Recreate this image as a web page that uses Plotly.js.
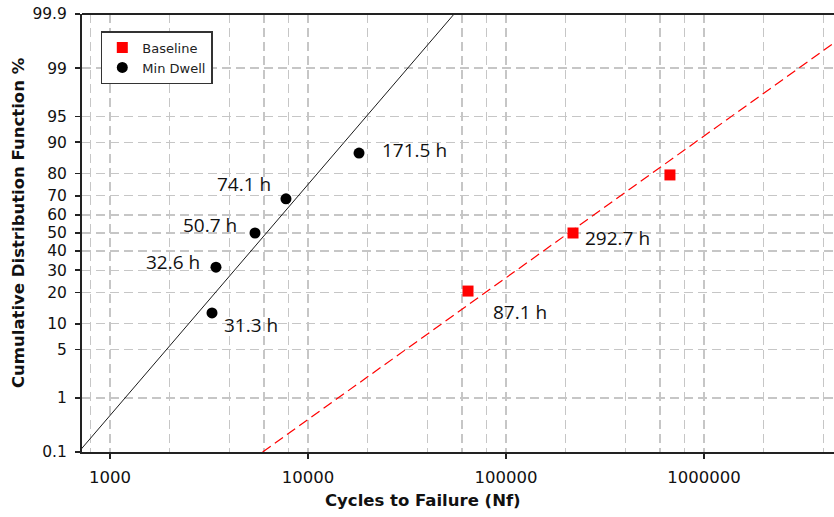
<!DOCTYPE html>
<html>
<head>
<meta charset="utf-8">
<script src="https://cdn.plot.ly/plotly-3.0.1.min.js"></script>
<style>html,body{margin:0;padding:0;background:#fff;}#chart{width:834px;height:517px;}</style>
</head>
<body>
<div id="chart"></div>
<script>
// ---- data ----
const baselineCycles = [64300, 218000, 673000];
const baselineCdf = [20.63, 50.0, 79.37];
const baselineLabels = ['87.1 h', '292.7 h', ''];

const minDwellCycles = [3275, 3430, 5400, 7740, 18100];
const minDwellCdf = [12.96, 31.48, 50.0, 68.52, 87.04];
const minDwellLabels = ['31.3 h', '32.6 h', '50.7 h', '74.1 h', '171.5 h'];

const minDwellFitCycles = [695, 54700];
const minDwellFitCdf = [0.1, 99.9];
const baselineFitCycles = [5900, 7260000];
const baselineFitCdf = [0.1, 99.9];

const yTickCdf = [0.1, 1, 5, 10, 20, 30, 40, 50, 60, 70, 80, 90, 95, 99, 99.9];
const yTickText = ['0.1', '1', '5', '10', '20', '30', '40', '50', '60', '70', '80', '90', '95', '99', '99.9'];
const xTickVals = [1000, 10000, 100000, 1000000];
const xTickText = ['1000', '10000', '100000', '1000000'];
const xMinorGrid = [800, 2000, 4000, 6000, 8000, 20000, 40000, 60000, 80000,
  200000, 400000, 600000, 800000, 2000000, 4000000];

// ---- normal probability scale (inverse normal CDF, Acklam) ----
function probit(p) {
  const a = [-3.969683028665376e+01, 2.209460984245205e+02, -2.759285104469687e+02, 1.383577518672690e+02, -3.066479806614716e+01, 2.506628277459239e+00];
  const b = [-5.447609879822406e+01, 1.615858368580409e+02, -1.556989798598866e+02, 6.680131188771972e+01, -1.328068155288572e+01];
  const c = [-7.784894002430293e-03, -3.223964580411365e-01, -2.400758277161838e+00, -2.549732539343734e+00, 4.374664141464968e+00, 2.938163982698783e+00];
  const d = [7.784695709041462e-03, 3.224671290700398e-01, 2.445134137142996e+00, 3.754408661907416e+00];
  const pl = 0.02425, ph = 1 - pl;
  let q, r;
  if (p < pl) {
    q = Math.sqrt(-2 * Math.log(p));
    return (((((c[0]*q+c[1])*q+c[2])*q+c[3])*q+c[4])*q+c[5]) / ((((d[0]*q+d[1])*q+d[2])*q+d[3])*q+1);
  } else if (p <= ph) {
    q = p - 0.5; r = q * q;
    return (((((a[0]*r+a[1])*r+a[2])*r+a[3])*r+a[4])*r+a[5])*q / (((((b[0]*r+b[1])*r+b[2])*r+b[3])*r+b[4])*r+1);
  } else {
    q = Math.sqrt(-2 * Math.log(1 - p));
    return -(((((c[0]*q+c[1])*q+c[2])*q+c[3])*q+c[4])*q+c[5]) / ((((d[0]*q+d[1])*q+d[2])*q+d[3])*q+1);
  }
}
const z = arr => arr.map(v => probit(v / 100));

const traces = [
  {x: minDwellFitCycles, y: z(minDwellFitCdf), mode: 'lines', showlegend: false, hoverinfo: 'skip',
   line: {color: '#1a1a1a', width: 1}},
  {x: baselineFitCycles, y: z(baselineFitCdf), mode: 'lines', showlegend: false, hoverinfo: 'skip',
   line: {color: '#ff0000', width: 1.2, dash: '10px,5px'}},
  {x: baselineCycles, y: z(baselineCdf), mode: 'markers', name: 'Baseline',
   marker: {symbol: 'square', size: 11, color: '#ff0000'}},
  {x: minDwellCycles, y: z(minDwellCdf), mode: 'markers', name: 'Min Dwell',
   marker: {symbol: 'circle', size: 11, color: '#000000'}}
];

// label placement (pixel offsets)
const minDwellLabelPos = [
  {xanchor: 'left', dx: 10, dy: -12},
  {xanchor: 'right', dx: -14, dy: 5},
  {xanchor: 'right', dx: -16, dy: 8},
  {xanchor: 'right', dx: -13, dy: 15},
  {xanchor: 'left', dx: 21, dy: 3}
];
const baselineLabelPos = [
  {xanchor: 'left', dx: 23, dy: -21},
  {xanchor: 'left', dx: 10, dy: -5},
  {xanchor: 'left', dx: 10, dy: 0}
];
const labelFont = {family: 'Open Sans, sans-serif', size: 19, color: '#111'};
const annotations = [];
function addLabels(xs, ps, labels, pos) {
  const zs = z(ps);
  labels.forEach((t, i) => {
    if (!t) return;
    annotations.push({x: Math.log10(xs[i]), y: zs[i], xref: 'x', yref: 'y', text: t, showarrow: false,
      xanchor: pos[i].xanchor, yanchor: 'middle', xshift: pos[i].dx, yshift: pos[i].dy, font: labelFont});
  });
}
addLabels(minDwellCycles, minDwellCdf, minDwellLabels, minDwellLabelPos);
addLabels(baselineCycles, baselineCdf, baselineLabels, baselineLabelPos);

annotations.push({xref: 'paper', yref: 'paper', x: 0.4535, y: -0.1096, xanchor: 'center', yanchor: 'middle',
  showarrow: false, text: '<b>Cycles to Failure (Nf)</b>',
  font: {family: 'DejaVu Sans, sans-serif', size: 16.5, color: '#111'}});
annotations.push({xref: 'paper', yref: 'paper', x: -0.0851, y: 0.5228, xanchor: 'center', yanchor: 'middle',
  showarrow: false, textangle: -90, text: '<b>Cumulative Distribution Function %</b>',
  font: {family: 'DejaVu Sans, sans-serif', size: 16.5, color: '#111'}});

const layout = {
  width: 834, height: 517,
  margin: {l: 82, r: 0, t: 14, b: 65, pad: 0},
  paper_bgcolor: '#ffffff', plot_bgcolor: '#ffffff',
  showlegend: true,
  legend: {x: 0.025, y: 0.961, xanchor: 'left', yanchor: 'top', bgcolor: '#ffffff',
    bordercolor: '#333333', borderwidth: 1.5, font: {family: 'DejaVu Sans, sans-serif', size: 13, color: '#222'},
    traceorder: 'normal', itemwidth: 30},
  xaxis: {
    type: 'log', range: [2.8586, 6.6566],
    tickmode: 'array', tickvals: xTickVals, ticktext: xTickText,
    ticks: 'outside', ticklen: 5, tickwidth: 1.5, tickcolor: '#222',
    ticklabelstandoff: 4,
    tickfont: {family: 'DejaVu Sans, sans-serif', size: 16.5, color: '#111'},
    showgrid: true, gridcolor: '#c6c6c6', gridwidth: 1.3, griddash: '9px,5px',
    minor: {tickmode: 'array', tickvals: xMinorGrid, showgrid: true, gridcolor: '#c6c6c6', gridwidth: 1.3,
      griddash: '9px,5px', ticks: ''},
    showline: true, linecolor: '#222', linewidth: 2, mirror: false, zeroline: false
  },
  yaxis: {
    range: [probit(0.001), probit(0.999)],
    tickmode: 'array', tickvals: z(yTickCdf), ticktext: yTickText,
    ticks: 'outside', ticklen: 5, tickwidth: 1.5, tickcolor: '#222',
    ticklabelstandoff: 5,
    tickfont: {family: 'DejaVu Sans, sans-serif', size: 15.5, color: '#111'},
    showgrid: true, gridcolor: '#c6c6c6', gridwidth: 1.3, griddash: '9px,5px',
    showline: true, linecolor: '#222', linewidth: 2, mirror: false, zeroline: false
  },
  shapes: [
    {type: 'line', xref: 'paper', yref: 'paper', x0: 0, x1: 1, y0: 1, y1: 1,
     line: {color: '#222', width: 2}}
  ],
  annotations: annotations
};

Plotly.newPlot('chart', traces, layout, {displayModeBar: false, staticPlot: true});
</script>
</body>
</html>
